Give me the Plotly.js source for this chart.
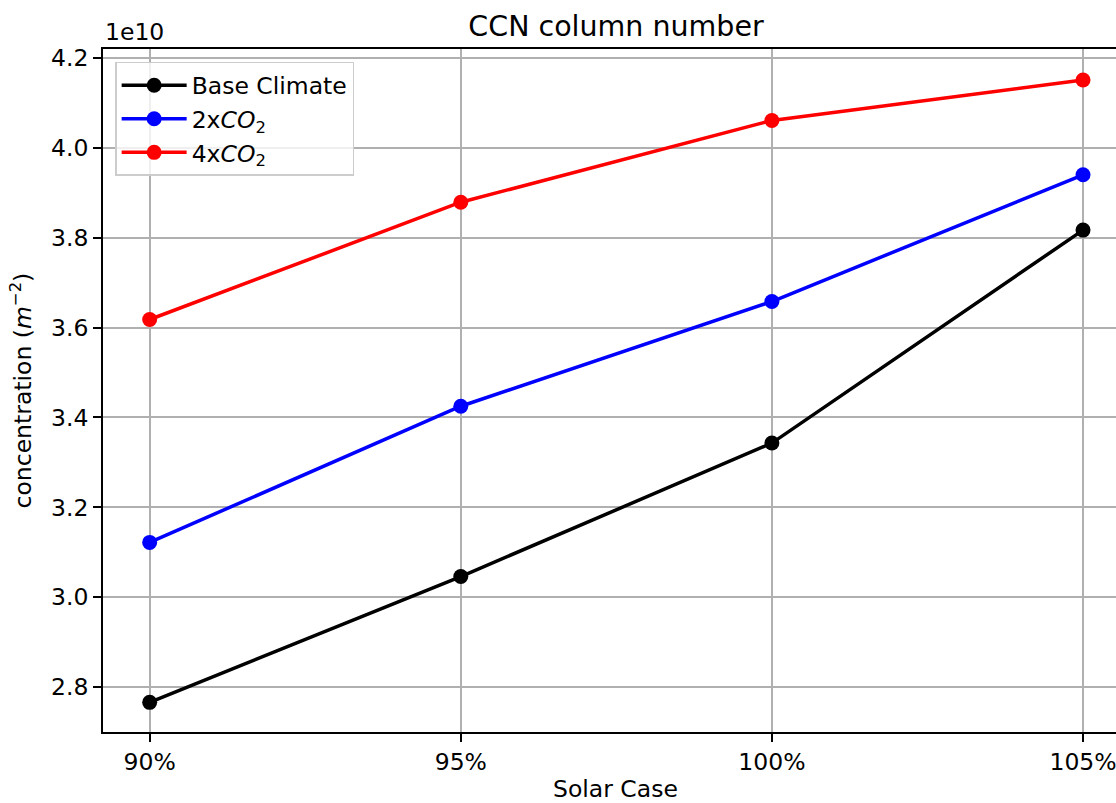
<!DOCTYPE html>
<html>
<head>
<meta charset="utf-8">
<script src="https://cdn.plot.ly/plotly-3.0.1.min.js"></script>
<style>html,body{margin:0;padding:0;background:#fff;}</style>
</head>
<body>
<div id="chart" style="width:1116px;height:803px;"></div>
<script>
const solarCases = [90, 95, 100, 105];
const tickLabels = ["90%", "95%", "100%", "105%"];
// values in units of 1e10 m^-2
const baseClimate = [2.766, 3.046, 3.343, 3.817];
const co2x2 = [3.122, 3.425, 3.658, 3.940];
const co2x4 = [3.618, 3.879, 4.061, 4.151];
const seriesNames = ["Base Climate", "2x<i>CO</i><sub>2</sub>", "4x<i>CO</i><sub>2</sub>"];
const seriesColors = ["#000000", "#0000ff", "#ff0000"];
const seriesData = [baseClimate, co2x2, co2x4];

const font = "DejaVu Sans, sans-serif";
const fs = 23.5;
const traces = seriesData.map((ys, i) => ({
  x: solarCases, y: ys, type: "scatter", mode: "lines+markers",
  name: seriesNames[i],
  line: {color: seriesColors[i], width: 3.5},
  marker: {color: seriesColors[i], size: 15}
}));

const layout = {
  width: 1116, height: 803,
  margin: {l: 103, r: 0, t: 49, b: 71},
  paper_bgcolor: "#fff", plot_bgcolor: "#fff",
  font: {family: font, size: fs, color: "#000"},
  title: {text: "CCN column number", font: {family: font, size: 28.5, color: "#000"},
          x: 0.552, xanchor: "center", y: 0.968, yanchor: "middle"},
  xaxis: {
    range: [89.25, 105.53], tickvals: solarCases, ticktext: tickLabels,
    ticklabeloverflow: "allow",
    showgrid: true, gridcolor: "#b0b0b0", gridwidth: 1.9,
    showline: true, linecolor: "#000", linewidth: 1.9, mirror: true,
    ticks: "outside", ticklen: 8, tickwidth: 1.9, tickcolor: "#000",
    zeroline: false,
    tickfont: {family: font, size: fs, color: "#000"}
  },
  yaxis: {
    range: [2.70, 4.22], tickvals: [2.8, 3.0, 3.2, 3.4, 3.6, 3.8, 4.0, 4.2],
    ticktext: ["2.8", "3.0", "3.2", "3.4", "3.6", "3.8", "4.0", "4.2"],
    showgrid: true, gridcolor: "#b0b0b0", gridwidth: 1.9,
    showline: true, linecolor: "#000", linewidth: 1.9,
    ticks: "outside", ticklen: 8, tickwidth: 1.9, tickcolor: "#000",
    zeroline: false,
    tickfont: {family: font, size: fs, color: "#000"}
  },
  legend: {
    x: 0.012, y: 0.981, xanchor: "left", yanchor: "top",
    bgcolor: "rgba(255,255,255,0.8)", bordercolor: "#cccccc", borderwidth: 1.5,
    font: {family: font, size: fs, color: "#000"},
    itemwidth: 65, tracegroupgap: 0
  },
  annotations: [{
    text: "1e10", xref: "paper", yref: "paper", x: 0, y: 1,
    xanchor: "left", yanchor: "bottom", yshift: 1, showarrow: false,
    font: {family: font, size: fs, color: "#000"}
  }, {
    text: "Solar Case", xref: "paper", yref: "paper", x: 0.506, y: -0.083,
    xanchor: "center", yanchor: "middle", showarrow: false,
    font: {family: font, size: fs, color: "#000"}
  }, {
    text: "concentration (<i>m</i><sup>−2</sup>)", xref: "paper", yref: "paper",
    x: -0.08, y: 0.5, xanchor: "center", yanchor: "middle", textangle: -90, showarrow: false,
    font: {family: font, size: fs, color: "#000"}
  }],
  showlegend: true
};

Plotly.newPlot("chart", traces, layout, {displayModeBar: false, responsive: false});
</script>
</body>
</html>
